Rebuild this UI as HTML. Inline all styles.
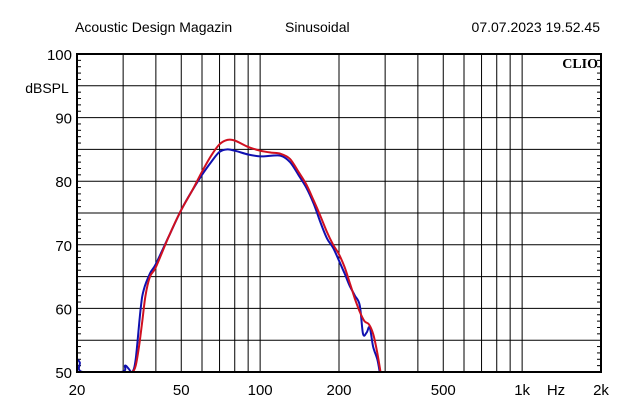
<!DOCTYPE html>
<html><head><meta charset="utf-8"><style>
body{margin:0;background:#fff;}
svg{display:block;font-family:"Liberation Sans",sans-serif;}
</style></head><body>
<svg width="640" height="410" id="c">
<text x="75" y="32" font-size="14">Acoustic Design Magazin</text>
<text x="285" y="32" font-size="14">Sinusoidal</text>
<text x="600" y="32" font-size="14" text-anchor="end">07.07.2023 19.52.45</text>
<text x="47" y="93" font-size="14" text-anchor="middle">dBSPL</text>
<text x="598" y="68" font-size="14" font-weight="bold" font-family="Liberation Serif,serif" text-anchor="end">CLIO</text>
<g id="grid"></g><g id="ticks"></g><g id="series"></g><g id="labels"></g>
<rect x="77" y="54" width="524" height="318" fill="none" stroke="#000" stroke-width="2"/>
</svg>
<script>
const xTicks=[20,50,100,200,500,1000,2000];
const xTickLabels=["20","50","100","200","500","1k","2k"];
const xGrid=[30,40,50,60,70,80,90,100,200,300,400,500,600,700,800,900,1000];
const yTicks=[50,60,70,80,90,100];
const yGrid=[55,60,65,70,75,80,85,90,95];
const blueF=[20,20.5,21,29.5,30.5,31.5,32.5,33.5,35,36,38,40,45,50,55,60,65,70,75,80,90,100,110,120,130,140,150,160,170,180,190,200,210,220,230,240,247,255,262,270,280,286];
const blueV=[52,51.5,50,50,51,50.5,50,52,60,63,65.5,67,71.5,75.5,78.5,81,83,84.6,85,84.8,84.2,83.9,84,84,83,81,79,76.5,73.5,71,69.5,67.5,65.5,63.5,62,60.5,56,56.2,57,54,52,50];
const redF=[31,32.5,33.5,34.5,35.5,36.5,38,40,45,50,55,60,65,70,75,80,90,100,110,120,130,140,150,160,170,180,190,200,210,220,230,240,250,260,270,280,288];
const redV=[50,50,51,54,58,62,65,66.5,71.5,75.5,78.5,81.5,84,85.8,86.5,86.4,85.4,84.8,84.5,84.3,83.5,81.5,79.5,77,74.5,72,70,68.5,66.5,64,61.5,59.5,58,57.5,56,53,50];
const X=f=>77+262*Math.log10(f/20);
const Y=v=>372-(v-50)*318/50;
const NS="http://www.w3.org/2000/svg";
function mk(t,a,p){const e=document.createElementNS(NS,t);for(const k in a)e.setAttribute(k,a[k]);p.appendChild(e);return e;}
const g=document.getElementById('grid');
xGrid.forEach(f=>{const l=mk('line',{x1:X(f),x2:X(f),y1:54,y2:372,stroke:'#000','stroke-width':1},g);

});
yGrid.forEach(v=>{const l=mk('line',{x1:77,x2:601,y1:Y(v),y2:Y(v),stroke:'#000','stroke-width':1},g);

});
const tk=document.getElementById('ticks');
for(let v=51;v<100;v++){if(v%5===0)continue;[[77,81],[597,601]].forEach(([a,b])=>{const l=mk('line',{x1:a,x2:b,y1:Y(v),y2:Y(v),stroke:'#000','stroke-width':1},tk);

});}
const lb=document.getElementById('labels');
yTicks.forEach(v=>{const t=mk('text',{x:72,y:Y(v)+6,'font-size':15,'text-anchor':'end'},lb);t.textContent=String(v);

});
xTicks.forEach((f,i)=>{const t=mk('text',{x:X(f),y:395,'font-size':15,'text-anchor':'middle'},lb);t.textContent=xTickLabels[i];

});
const hz=mk('text',{x:556,y:395,'font-size':15,'text-anchor':'middle'},lb);hz.textContent='Hz';


const s=document.getElementById('series');
const cp=mk('clipPath',{id:'cl'},s);mk('rect',{x:77,y:54,width:524,height:318},cp);
function path(F,V,col,name){
const P=F.map((f,i)=>[X(f),Y(V[i])]);
let d='M'+P[0][0].toFixed(1)+','+P[0][1].toFixed(1);
for(let i=0;i<P.length-1;i++){const p0=P[Math.max(0,i-1)],p1=P[i],p2=P[i+1],p3=P[Math.min(P.length-1,i+2)];
const c1=[p1[0]+(p2[0]-p0[0])/6,p1[1]+(p2[1]-p0[1])/6],c2=[p2[0]-(p3[0]-p1[0])/6,p2[1]-(p3[1]-p1[1])/6];
d+='C'+c1[0].toFixed(1)+','+c1[1].toFixed(1)+' '+c2[0].toFixed(1)+','+c2[1].toFixed(1)+' '+p2[0].toFixed(1)+','+p2[1].toFixed(1);}
const p=mk('path',{d:d,fill:'none',stroke:col,'stroke-width':2,'stroke-linejoin':'round','clip-path':'url(#cl)'},s);

}
path(blueF,blueV,'#1010b0','blue-response-curve');
path(redF,redV,'#d01020','red-response-curve');
</script>
</body></html>
